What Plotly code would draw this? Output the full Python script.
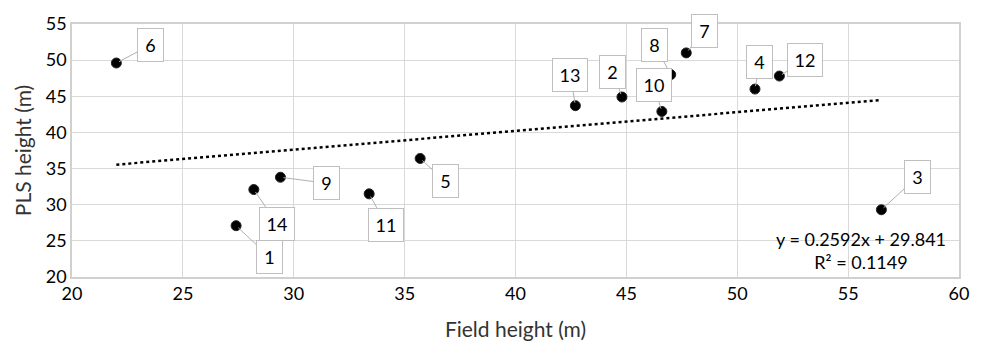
import plotly.graph_objects as go

# Data
labels = ["1", "2", "3", "4", "5", "6", "7", "8", "9", "10", "11", "12", "13", "14"]
field_height = [27.4, 44.8, 56.5, 50.8, 35.7, 22.0, 47.7, 47.0, 29.4, 46.6, 33.4, 51.9, 42.7, 28.2]
pls_height = [27.1, 44.9, 29.3, 46.0, 36.4, 49.6, 51.0, 48.0, 33.8, 42.9, 31.5, 47.8, 43.7, 32.1]
slope = 0.2592
intercept = 29.841
r2 = 0.1149

# label box offsets in pixels (style)
offsets = {
    "1": (33, 31), "2": (-9, -25), "3": (36, -33), "4": (5, -27), "5": (25, 23),
    "6": (34, -18), "7": (18, -22), "8": (-16, -30), "9": (46, 6), "10": (-8, -26),
    "11": (17, 31), "12": (26, -16), "13": (-5, -31), "14": (23, 34),
}

FONT = "Lato, Carlito, Calibri, sans-serif"

fig = go.Figure()

xmin, xmax = min(field_height), max(field_height)
fig.add_trace(go.Scatter(
    x=[xmin, xmax], y=[slope * xmin + intercept, slope * xmax + intercept],
    mode="lines", line=dict(color="black", width=2.5, dash="dot"),
    showlegend=False, hoverinfo="skip"))

fig.add_trace(go.Scatter(
    x=field_height, y=pls_height, mode="markers",
    marker=dict(color="black", size=10, line=dict(color="#222", width=1)),
    showlegend=False))

for lab, xv, yv in zip(labels, field_height, pls_height):
    ax, ay = offsets[lab]
    fig.add_annotation(
        x=xv, y=yv, text=lab, showarrow=True, arrowhead=0, arrowwidth=1,
        arrowcolor="#b0b0b0", ax=ax, ay=ay, standoff=3,
        bgcolor="white", bordercolor="#bfbfbf", borderwidth=1, borderpad=3,
        width=19 if len(lab) == 1 else 28, height=26,
        font=dict(family=FONT, size=18, color="#000"))

fig.add_annotation(
    x=55.6, y=23.6, xref="x", yref="y", showarrow=False,
    text=f"y = {slope}x + {intercept}<br>R² = {r2}",
    font=dict(family=FONT, size=18, color="#000"), align="center")

fig.update_xaxes(
    range=[20, 60], dtick=5, showgrid=True, gridcolor="#d9d9d9", gridwidth=1,
    showline=True, linecolor="#d0d0d0", linewidth=1.5, mirror=True, zeroline=False,
    ticks="", tickfont=dict(family=FONT, size=18, color="#000"), automargin=False,
    title=dict(text="Field height (m)", font=dict(family=FONT, size=21, color="#333"), standoff=19))
fig.update_yaxes(
    range=[20, 55], dtick=5, showgrid=True, gridcolor="#d9d9d9", gridwidth=1,
    showline=True, linecolor="#d0d0d0", linewidth=1.5, mirror=True, zeroline=False,
    ticks="", tickfont=dict(family=FONT, size=18, color="#000"),
    title=dict(text="PLS height (m)", font=dict(family=FONT, size=21, color="#333"), standoff=8))

fig.update_layout(
    width=984, height=344, plot_bgcolor="white", paper_bgcolor="white",
    margin=dict(l=72, r=25, t=17, b=67), showlegend=False)

fig.write_html("out.html")
